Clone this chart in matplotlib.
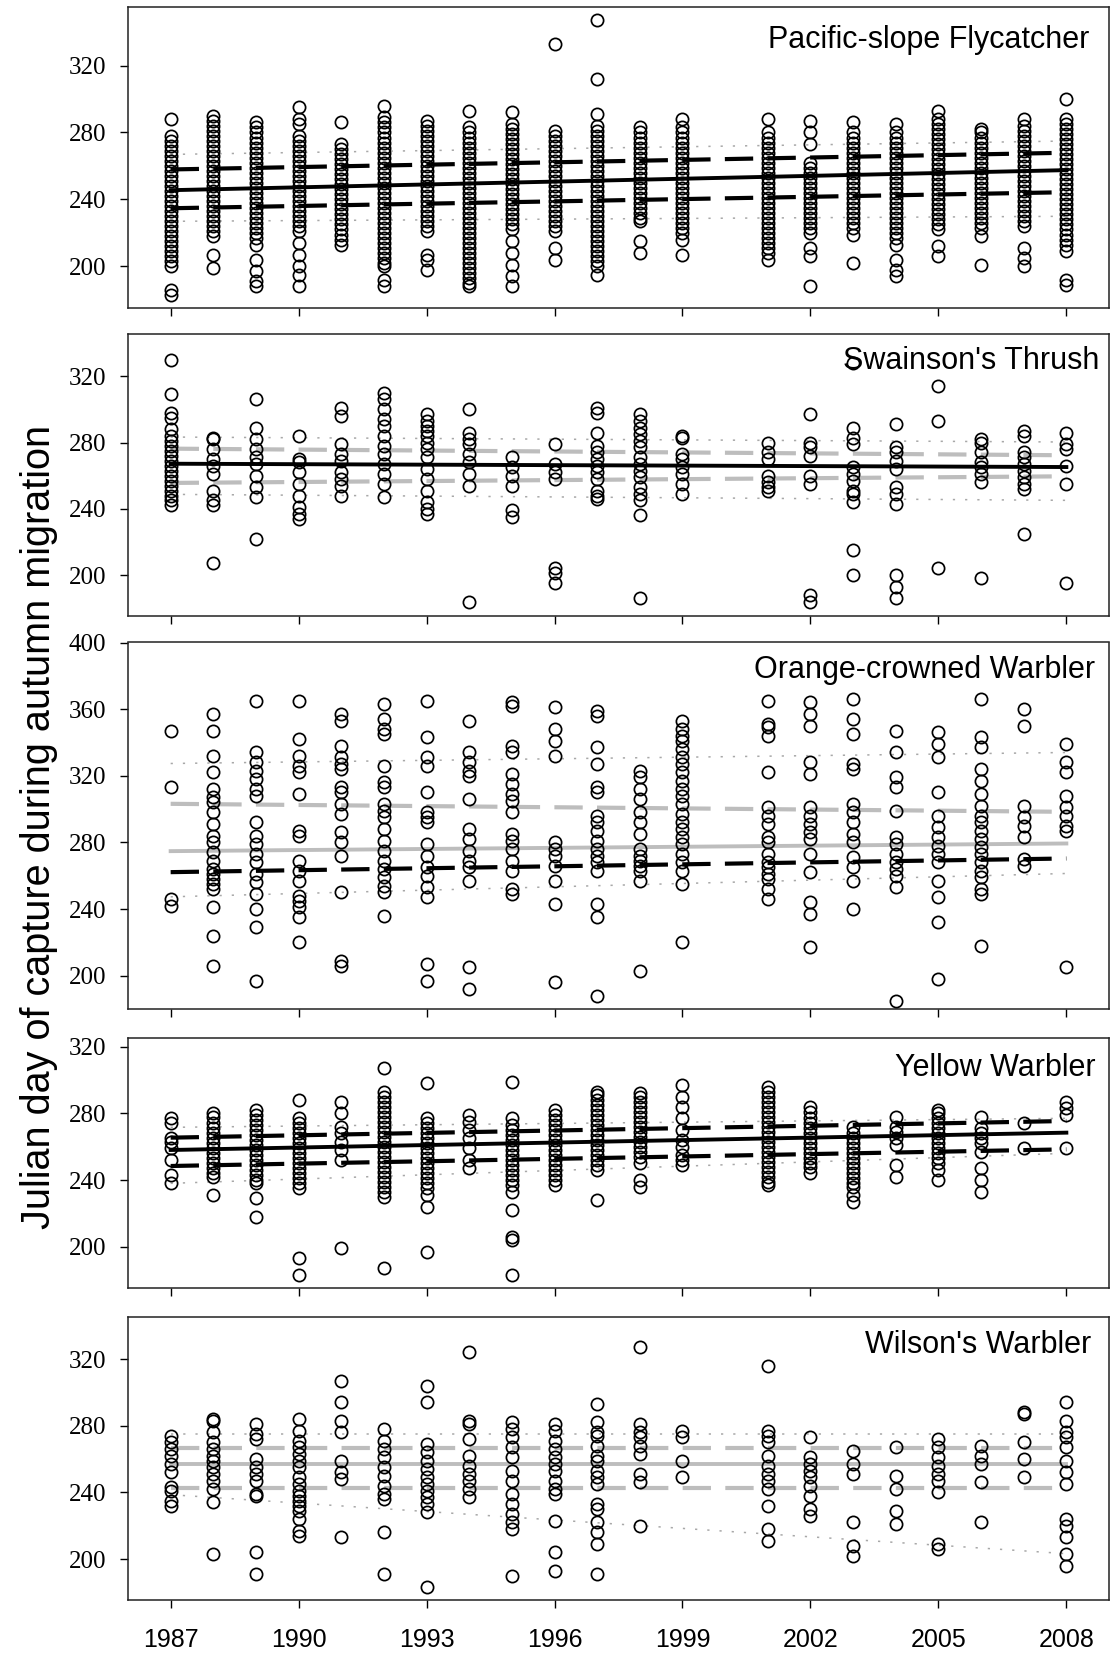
import matplotlib
matplotlib.use("Agg")
import matplotlib.pyplot as plt

plt.rcParams['lines.scale_dashes'] = False

# ---------------- data ----------------
X_TICKS = [1987, 1990, 1993, 1996, 1999, 2002, 2005, 2008]
FIT_YEARS = [1987, 2008]
YEARS_ALL = [1987, 1988, 1989, 1990, 1991, 1992, 1993, 1994, 1995, 1996,
             1997, 1998, 1999, 2001, 2002, 2003, 2004, 2005, 2006, 2007, 2008]

# Pacific-slope Flycatcher
PSFL_DAYS = [
    [288, 278, 275, 272, 269, 266, 263, 260, 257, 254, 251, 248, 245, 242, 239, 236, 233, 230, 227, 224, 221, 218, 215, 212, 209, 206, 203, 200, 186, 183],
    [290, 287, 284, 281, 278, 275, 272, 269, 266, 263, 260, 257, 254, 251, 248, 245, 242, 239, 236, 233, 230, 227, 224, 221, 218, 207, 199],
    [286, 283, 280, 277, 274, 271, 268, 265, 262, 259, 256, 253, 250, 247, 244, 241, 238, 235, 232, 229, 226, 223, 220, 217, 213, 204, 197, 191, 188],
    [295, 288, 285, 278, 275, 272, 269, 266, 263, 260, 257, 254, 251, 248, 245, 242, 239, 236, 233, 230, 227, 224, 221, 214, 207, 200, 195, 188],
    [286, 273, 270, 267, 264, 261, 258, 255, 252, 249, 246, 243, 240, 237, 234, 231, 228, 225, 222, 219, 216, 213],
    [296, 289, 286, 283, 280, 277, 274, 271, 268, 265, 262, 259, 256, 253, 250, 247, 244, 241, 238, 235, 232, 229, 226, 223, 220, 217, 214, 211, 208, 205, 202, 200, 192, 188],
    [287, 284, 281, 278, 275, 272, 269, 266, 263, 260, 257, 254, 251, 248, 245, 242, 239, 236, 233, 230, 227, 224, 221, 207, 204, 198],
    [293, 283, 280, 277, 274, 271, 268, 265, 262, 259, 256, 253, 250, 247, 244, 241, 238, 235, 232, 229, 226, 223, 220, 217, 214, 211, 208, 205, 202, 199, 196, 193, 190, 188],
    [292, 285, 282, 279, 276, 273, 270, 267, 264, 261, 258, 255, 252, 249, 246, 243, 240, 237, 234, 231, 228, 225, 222, 215, 208, 201, 194, 188],
    [333, 281, 278, 275, 272, 269, 266, 263, 260, 257, 254, 251, 248, 245, 242, 239, 236, 233, 230, 227, 224, 221, 211, 204],
    [347, 312, 291, 284, 281, 278, 275, 272, 269, 266, 263, 260, 257, 254, 251, 248, 245, 242, 239, 236, 233, 230, 227, 224, 221, 218, 215, 212, 209, 206, 203, 200, 195],
    [283, 280, 277, 274, 271, 268, 265, 262, 259, 256, 253, 250, 247, 244, 241, 238, 235, 232, 229, 227, 215, 208],
    [288, 283, 280, 277, 274, 271, 268, 265, 262, 259, 256, 253, 250, 247, 244, 241, 238, 235, 232, 229, 226, 223, 220, 216, 207],
    [288, 280, 277, 274, 271, 268, 265, 262, 259, 256, 253, 250, 247, 244, 241, 238, 235, 232, 229, 226, 223, 220, 217, 214, 211, 208, 204],
    [287, 280, 273, 262, 259, 256, 253, 250, 247, 244, 241, 238, 235, 232, 229, 226, 223, 220, 211, 206, 188],
    [286, 280, 277, 274, 271, 268, 265, 262, 259, 256, 253, 250, 247, 244, 241, 238, 235, 232, 229, 226, 223, 219, 202],
    [285, 280, 277, 274, 271, 268, 265, 262, 259, 256, 253, 250, 247, 244, 241, 238, 235, 232, 229, 226, 223, 220, 217, 213, 204, 198, 194],
    [293, 288, 285, 282, 279, 276, 273, 270, 267, 264, 261, 258, 255, 252, 249, 246, 243, 240, 237, 234, 231, 228, 225, 222, 212, 206],
    [282, 280, 277, 274, 271, 268, 265, 262, 259, 256, 253, 250, 247, 244, 241, 238, 235, 232, 229, 226, 223, 218, 201],
    [288, 284, 281, 278, 275, 272, 269, 266, 263, 260, 257, 254, 251, 248, 245, 242, 239, 236, 233, 230, 227, 224, 211, 205, 200],
    [300, 288, 285, 282, 279, 276, 273, 270, 267, 264, 261, 258, 255, 252, 249, 246, 243, 240, 237, 234, 231, 228, 225, 222, 219, 216, 213, 209, 192, 189],
]
PSFL_FIT = [245.5, 257.5]
PSFL_CI = [[257.9, 267.9], [234.7, 244.3]]
PSFL_PI = [[266.9, 274.9], [226.9, 229.9]]

# Swainson's Thrush
SWTH_DAYS = [
    [330, 309, 298, 295, 288, 284, 281, 278, 275, 272, 269, 266, 263, 260, 257, 254, 251, 248, 245, 242],
    [283, 282, 276, 270, 266, 261, 251, 245, 242, 207],
    [306, 289, 282, 276, 271, 267, 260, 253, 247, 222],
    [284, 270, 268, 262, 255, 248, 241, 237, 234],
    [301, 296, 279, 273, 269, 262, 258, 254, 248],
    [310, 306, 300, 294, 290, 284, 278, 273, 267, 261, 255, 247],
    [297, 293, 290, 287, 284, 280, 276, 271, 264, 258, 251, 244, 240, 237],
    [300, 286, 282, 279, 273, 268, 261, 254, 184],
    [271, 265, 260, 254, 239, 235],
    [279, 267, 262, 258, 204, 201, 195],
    [301, 298, 286, 278, 274, 270, 266, 262, 258, 251, 248, 246],
    [297, 293, 289, 285, 281, 277, 271, 267, 263, 259, 253, 249, 245, 236, 186],
    [284, 283, 273, 270, 265, 261, 255, 249],
    [280, 274, 270, 260, 256, 253, 251],
    [297, 280, 277, 272, 260, 255, 188, 184],
    [328, 289, 283, 279, 265, 261, 257, 251, 249, 244, 215, 200],
    [291, 277, 274, 269, 264, 253, 249, 243, 200, 193, 186],
    [314, 293, 204],
    [282, 280, 274, 268, 265, 261, 256, 198],
    [287, 284, 274, 271, 267, 263, 259, 255, 252, 225],
    [286, 279, 276, 266, 255, 195],
]
SWTH_FIT = [267.2, 265.2]
SWTH_CI = [[276.3, 272.3], [255.6, 259.6]]
SWTH_PI = [[283.3, 280.3], [248.7, 245.1]]

# Orange-crowned Warbler
OCWA_DAYS = [
    [347, 313, 246, 242],
    [357, 347, 332, 322, 312, 307, 304, 298, 291, 284, 280, 274, 269, 264, 261, 258, 255, 252, 241, 224, 206],
    [365, 334, 328, 323, 318, 312, 308, 292, 284, 279, 273, 268, 261, 256, 249, 240, 229, 197],
    [365, 342, 332, 326, 322, 309, 287, 284, 269, 263, 257, 248, 245, 241, 235, 220],
    [357, 353, 338, 331, 327, 324, 313, 310, 303, 297, 286, 280, 272, 250, 209, 206],
    [363, 354, 348, 345, 326, 316, 313, 303, 299, 295, 288, 281, 275, 269, 264, 259, 254, 250, 236],
    [365, 343, 331, 326, 310, 298, 295, 292, 279, 272, 265, 260, 253, 247, 207, 197],
    [353, 334, 328, 323, 320, 306, 288, 282, 275, 269, 265, 257, 205, 192],
    [364, 362, 338, 334, 321, 315, 309, 305, 298, 285, 281, 276, 269, 263, 252, 249],
    [361, 348, 341, 332, 280, 276, 272, 266, 257, 243, 196],
    [359, 356, 337, 327, 313, 310, 296, 292, 287, 281, 276, 272, 268, 263, 243, 235, 188],
    [323, 319, 312, 306, 298, 292, 285, 276, 272, 269, 266, 263, 257, 203],
    [353, 348, 344, 341, 336, 331, 327, 322, 317, 312, 308, 303, 297, 292, 288, 283, 279, 273, 268, 263, 255, 220],
    [365, 351, 349, 344, 322, 301, 296, 291, 283, 280, 273, 268, 265, 261, 258, 252, 246],
    [364, 357, 350, 328, 321, 301, 296, 291, 286, 282, 273, 262, 244, 237, 217],
    [366, 354, 345, 327, 324, 303, 298, 292, 285, 280, 271, 265, 257, 240],
    [347, 334, 319, 313, 299, 283, 279, 273, 268, 264, 260, 253, 185],
    [346, 339, 331, 310, 296, 289, 283, 278, 273, 268, 257, 247, 232, 198],
    [366, 343, 337, 324, 317, 309, 302, 296, 292, 287, 282, 277, 273, 268, 263, 259, 252, 249, 218],
    [360, 350, 302, 295, 290, 283, 270, 266],
    [339, 328, 322, 308, 301, 296, 290, 287, 205],
]
OCWA_FIT = [274.8, 279.4]
OCWA_CI = [[303.2, 298.4], [262.2, 270.4]]
OCWA_PI = [[327.4, 334.0], [247.4, 261.4]]

# Yellow Warbler
YWAR_DAYS = [
    [277, 274, 265, 263, 259, 252, 243, 238],
    [280, 278, 274, 271, 268, 265, 262, 259, 256, 253, 250, 247, 244, 242, 231],
    [282, 279, 276, 273, 270, 267, 264, 261, 258, 255, 252, 249, 246, 243, 240, 238, 229, 218],
    [288, 277, 274, 271, 268, 265, 262, 259, 256, 253, 250, 247, 244, 241, 238, 235, 193, 183],
    [287, 280, 272, 268, 263, 258, 252, 199],
    [307, 293, 290, 287, 284, 281, 278, 275, 272, 269, 266, 263, 260, 257, 254, 251, 248, 245, 242, 239, 236, 233, 230, 187],
    [298, 277, 274, 271, 268, 265, 262, 259, 256, 253, 250, 247, 244, 241, 238, 235, 231, 224, 197],
    [279, 275, 270, 265, 259, 252, 247],
    [299, 277, 273, 270, 267, 264, 261, 258, 255, 252, 249, 246, 243, 240, 237, 233, 222, 206, 204, 183],
    [282, 279, 276, 273, 270, 267, 264, 261, 258, 255, 252, 249, 246, 243, 240, 237],
    [293, 291, 288, 285, 282, 279, 276, 273, 270, 267, 264, 261, 258, 255, 252, 249, 246, 228],
    [292, 290, 287, 284, 281, 278, 275, 272, 269, 266, 263, 260, 257, 254, 250, 240, 236],
    [297, 290, 284, 277, 270, 264, 260, 255, 252, 249],
    [296, 293, 290, 287, 284, 281, 278, 275, 272, 269, 266, 263, 260, 257, 254, 251, 248, 245, 242, 239, 237],
    [284, 281, 277, 274, 271, 268, 265, 262, 259, 256, 253, 250, 248, 244],
    [272, 268, 265, 262, 259, 256, 253, 250, 247, 244, 241, 238, 236, 231, 227],
    [278, 272, 269, 265, 261, 249, 242],
    [282, 280, 277, 274, 271, 268, 265, 262, 259, 256, 253, 250, 246, 240],
    [278, 271, 268, 265, 262, 257, 247, 240, 233],
    [274, 259],
    [287, 283, 279, 259],
]
YWAR_FIT = [258.0, 268.4]
YWAR_CI = [[265.4, 275.4], [248.4, 258.4]]
YWAR_PI = [[271.6, 277.0], [238.0, 256.0]]

# Wilson's Warbler
WIWA_DAYS = [
    [274, 270, 266, 262, 257, 252, 243, 241, 235, 232],
    [284, 283, 276, 270, 266, 262, 259, 255, 251, 247, 242, 234, 203],
    [281, 275, 272, 260, 255, 251, 247, 239, 238, 204, 191],
    [284, 277, 271, 267, 263, 259, 255, 249, 245, 241, 238, 235, 232, 229, 224, 217, 214],
    [307, 294, 283, 276, 259, 252, 248, 213],
    [278, 271, 266, 261, 255, 250, 244, 239, 236, 216, 191],
    [304, 294, 269, 264, 259, 254, 249, 245, 241, 237, 233, 228, 183],
    [324, 283, 281, 272, 262, 256, 251, 247, 242, 237],
    [282, 278, 273, 267, 261, 253, 247, 239, 233, 227, 222, 218, 190],
    [281, 277, 271, 266, 261, 257, 253, 247, 242, 239, 223, 204, 193],
    [293, 282, 276, 274, 268, 262, 259, 253, 249, 245, 233, 230, 222, 216, 209, 191],
    [327, 281, 276, 273, 268, 263, 251, 246, 220],
    [277, 273, 259, 249],
    [316, 277, 274, 270, 262, 256, 251, 247, 242, 232, 218, 211],
    [273, 261, 257, 253, 249, 244, 238, 230, 226],
    [265, 257, 251, 222, 208, 202],
    [267, 250, 242, 229, 221],
    [272, 267, 261, 256, 251, 247, 240, 209, 206],
    [268, 262, 257, 246, 222],
    [288, 287, 270, 260, 249],
    [294, 283, 276, 273, 267, 259, 252, 245, 224, 220, 213, 203, 196],
]
WIWA_FIT = [256.8, 256.8]
WIWA_CI = [[266.4, 266.4], [242.4, 242.4]]
WIWA_PI = [[275.0, 275.0], [238.6, 203.2]]

TITLES = ["Pacific-slope Flycatcher", "Swainson's Thrush", "Orange-crowned Warbler",
          "Yellow Warbler", "Wilson's Warbler"]
Y_LABEL = "Julian day of capture during autumn migration"

# ---------------- layout / style ----------------
W, H = 1110, 1657
fig = plt.figure(figsize=(W / 100, H / 100), dpi=100)

BLACK = "black"
GREY = "#bdbdbd"
DOT = "#a8a8a8"

panels = [
    dict(days=PSFL_DAYS, fit=PSFL_FIT, ci=PSFL_CI, pi=PSFL_PI, fitc=BLACK, cic=[BLACK, BLACK],
         ylim=(175.3, 354.8), yticks=[200, 240, 280, 320], px=(7.4, 307.6), tpad=(20, 40.9)),
    dict(days=SWTH_DAYS, fit=SWTH_FIT, ci=SWTH_CI, pi=SWTH_PI, fitc=BLACK, cic=[GREY, GREY],
         ylim=(175.1, 345.5), yticks=[200, 240, 280, 320], px=(334.0, 616.3), tpad=(10, 35.3)),
    dict(days=OCWA_DAYS, fit=OCWA_FIT, ci=OCWA_CI, pi=OCWA_PI, fitc=GREY, cic=[GREY, BLACK],
         ylim=(179.9, 400), yticks=[200, 240, 280, 320, 360, 400], px=(642.5, 1009.3), tpad=(13.5, 35.8)),
    dict(days=YWAR_DAYS, fit=YWAR_FIT, ci=YWAR_CI, pi=YWAR_PI, fitc=BLACK, cic=[BLACK, BLACK],
         ylim=(175.4, 325.0), yticks=[200, 240, 280, 320], px=(1038.3, 1287.7), tpad=(13.5, 37.7)),
    dict(days=WIWA_DAYS, fit=WIWA_FIT, ci=WIWA_CI, pi=WIWA_PI, fitc=GREY, cic=[GREY, GREY],
         ylim=(175.4, 345.4), yticks=[200, 240, 280, 320], px=(1316.7, 1600.0), tpad=(18, 36.6)),
]

LEFT, RIGHT = 128, 1109
DASH = (0, (20.4, 10.3))
DOTS = (0, (1.6, 7.2))

for i, p in enumerate(panels):
    top, bot = p["px"]
    ax = fig.add_axes([LEFT / W, 1 - bot / H, (RIGHT - LEFT) / W, (bot - top) / H])

    # prediction (dotted) and confidence (dashed) lines, fitted line
    for yy in p["pi"]:
        ax.plot(FIT_YEARS, yy, color=DOT, lw=1.1, linestyle=DOTS, zorder=2)
    for yy, c in zip(p["ci"], p["cic"]):
        ax.plot(FIT_YEARS, yy, color=c, lw=3.0, linestyle=DASH, zorder=2,
                dash_capstyle="butt")
    ax.plot(FIT_YEARS, p["fit"], color=p["fitc"], lw=2.8, zorder=2)

    # observations
    for yr, vals in zip(YEARS_ALL, p["days"]):
        ax.plot([yr] * len(vals), vals, linestyle="none", marker="o", ms=8.8,
                mfc="none", mec="black", mew=1.25, zorder=3)

    ax.set_xlim(1986, 2009)
    ax.set_ylim(*p["ylim"])
    ax.set_xticks(X_TICKS)
    ax.set_yticks(p["yticks"])
    ax.set_yticklabels([str(v) for v in p["yticks"]], family="Liberation Serif", fontsize=18)
    if i == len(panels) - 1:
        ax.set_xticklabels([str(v) for v in X_TICKS], family="Liberation Sans", fontsize=18)
    else:
        ax.set_xticklabels([])
    ax.tick_params(axis="y", direction="out", length=5.5, width=1.0, pad=10, colors="black")
    ax.tick_params(axis="x", direction="out", length=6, width=1.0, pad=14, colors="black")
    for s in ax.spines.values():
        s.set_linewidth(1.1)
        s.set_color("#222222")

    ax.annotate(TITLES[i], xy=(1, 1), xycoords="axes fraction",
                xytext=(-p["tpad"][0], -p["tpad"][1]), textcoords="offset pixels",
                ha="right", va="baseline", family="Liberation Sans", fontsize=22)

fig.text(39.5 / W, 1 - 826.5 / H, Y_LABEL, rotation=90, ha="center", va="center",
         family="Liberation Sans", fontsize=28.5)

fig.savefig("out.png", dpi=100)
